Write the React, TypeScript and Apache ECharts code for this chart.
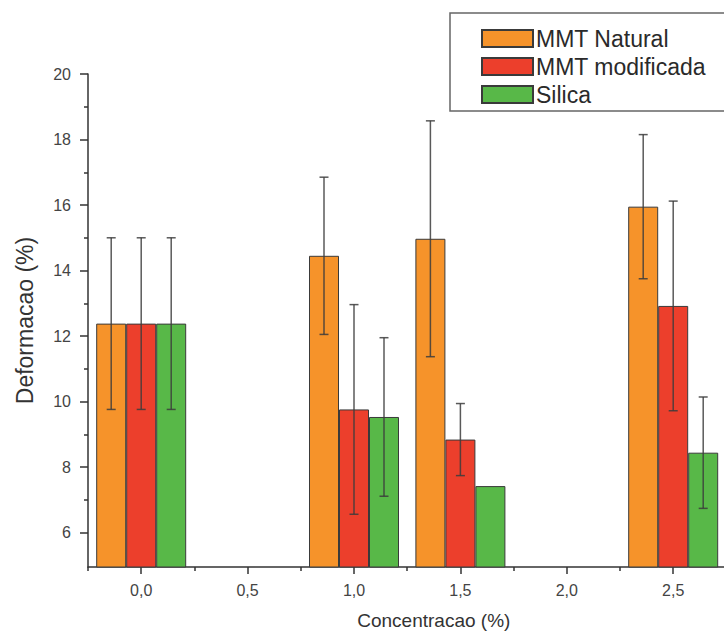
import React, { useEffect, useRef } from "react";
import * as echarts from "echarts";

const seriesNames = ["MMT Natural", "MMT modificada", "Silica"];
const concentrations = [0, 1.0, 1.5, 2.5];
const naturalValues = [12.38, 14.45, 14.97, 15.95];
const naturalErrors = [2.62, 2.4, 3.6, 2.2];
const modificadaValues = [12.38, 9.76, 8.84, 12.92];
const modificadaErrors = [2.62, 3.2, 1.1, 3.2];
const silicaValues = [12.38, 9.53, 7.42, 8.44];
const silicaErrors = [2.62, 2.42, 0, 1.7];
const yMajorTicks = [6, 8, 10, 12, 14, 16, 18, 20];
const yMinorTicks = [7, 9, 11, 13, 15, 17, 19];
const xMajorTicks = [0, 0.5, 1.0, 1.5, 2.0, 2.5, 3.0];
const xTickLabels = [0, 0.5, 1.0, 1.5, 2.0, 2.5];
const xMinorTicks = [-0.25, 0.25, 0.75, 1.25, 1.75, 2.25, 2.75];

const colors = ["#F6932A", "#EC3F2C", "#58B848"];
const FONT = "'Liberation Sans', Arial, sans-serif";
const BAR_W = 30;

export default function App() {
  const ref = useRef<HTMLDivElement>(null);
  useEffect(() => {
    if (!ref.current) return;
    const chart = echarts.init(ref.current, null, { renderer: "svg" });
    const valuesAll = [naturalValues, modificadaValues, silicaValues];
    const errorsAll = [naturalErrors, modificadaErrors, silicaErrors];

    const barSeries = seriesNames.map((name, i) => ({
      name,
      type: "bar",
      xAxisIndex: 0,
      yAxisIndex: 0,
      barWidth: BAR_W,
      barGap: "0%",
      data: concentrations.map((c, k) => [c, valuesAll[i][k]]),
      itemStyle: { color: colors[i], borderColor: "#3a3a3a", borderWidth: 1 },
      z: 2,
    }));

    const errSeries = seriesNames.map((name, i) => ({
      name: name + " err",
      type: "custom",
      xAxisIndex: 0,
      yAxisIndex: 0,
      z: 5,
      silent: true,
      data: concentrations
        .map((c, k) => [c, valuesAll[i][k], errorsAll[i][k]])
        .filter((d) => d[2] > 0),
      renderItem: (params: any, api: any) => {
        const x = api.value(0);
        const v = api.value(1);
        const e = api.value(2);
        const top = api.coord([x, v + e]);
        const bot = api.coord([x, v - e]);
        const cx = top[0] + (i - 1) * BAR_W;
        const cap = 4.5;
        const style = { stroke: "#3c3c3c", lineWidth: 1.5, opacity: 0.85 };
        return {
          type: "group",
          children: [
            { type: "line", shape: { x1: cx, y1: top[1], x2: cx, y2: bot[1] }, style },
            { type: "line", shape: { x1: cx - cap, y1: top[1], x2: cx + cap, y2: top[1] }, style },
            { type: "line", shape: { x1: cx - cap, y1: bot[1], x2: cx + cap, y2: bot[1] }, style },
          ],
        };
      },
    }));

    const axisLineStyle = { color: "#333", width: 1.5 };
    const fmt = (v: number) => v.toFixed(1).replace(".", ",");

    chart.setOption({
      animation: false,
      backgroundColor: "#ffffff",
      textStyle: { fontFamily: FONT },
      grid: { left: 88, top: 74, bottom: 69, width: 691.6 },
      legend: {
        data: seriesNames,
        orient: "vertical",
        left: 450,
        top: 13,
        padding: [14, 120, 5, 31],
        itemWidth: 51,
        itemHeight: 17,
        itemGap: 5,
        borderColor: "#666",
        borderWidth: 1.5,
        backgroundColor: "#fff",
        selectedMode: false,
        icon: "rect",
        textStyle: { fontSize: 23, color: "#2a2a2a", fontFamily: FONT, padding: [0, 0, 0, -2] },
        z: 10,
      },
      xAxis: [
        {
          type: "value",
          min: -0.25,
          max: 3.0,
          name: "Concentracao (%)",
          nameLocation: "middle",
          nameGap: 44,
          nameTextStyle: { fontSize: 19, color: "#333", fontFamily: FONT },
          axisLine: { show: true, onZero: false, lineStyle: axisLineStyle },
          axisTick: { show: true, length: 7, lineStyle: axisLineStyle, customValues: xMajorTicks },
          axisLabel: {
            show: true,
            margin: 15,
            fontSize: 16,
            color: "#444",
            fontFamily: FONT,
            customValues: xTickLabels,
            formatter: fmt,
          },
          splitLine: { show: false },
        },
        {
          type: "value",
          min: -0.25,
          max: 3.0,
          position: "bottom",
          axisLine: { show: false, onZero: false },
          axisTick: { show: true, length: 4, lineStyle: axisLineStyle, customValues: xMinorTicks },
          axisLabel: { show: false },
          splitLine: { show: false },
        },
      ],
      yAxis: [
        {
          type: "value",
          min: 4.95,
          max: 20,
          name: "Deformacao (%)",
          nameLocation: "middle",
          nameGap: 52,
          nameTextStyle: { fontSize: 23, color: "#333", fontFamily: FONT },
          axisLine: { show: true, onZero: false, lineStyle: axisLineStyle },
          axisTick: { show: true, length: 8, lineStyle: axisLineStyle, customValues: yMajorTicks },
          axisLabel: {
            show: true,
            margin: 17,
            fontSize: 16,
            color: "#444",
            fontFamily: FONT,
            customValues: yMajorTicks,
          },
          splitLine: { show: false },
        },
        {
          type: "value",
          min: 4.95,
          max: 20,
          position: "left",
          axisLine: { show: false, onZero: false },
          axisTick: { show: true, length: 4, lineStyle: axisLineStyle, customValues: yMinorTicks },
          axisLabel: { show: false },
          splitLine: { show: false },
        },
      ],
      series: [...barSeries, ...errSeries],
    });
    return () => chart.dispose();
  }, []);
  return (
    <div style={{ position: "fixed", left: 0, top: 0, width: 724, height: 636, overflow: "hidden", background: "#fff" }}>
      <div ref={ref} style={{ width: 800, height: 636 }} />
    </div>
  );
}
